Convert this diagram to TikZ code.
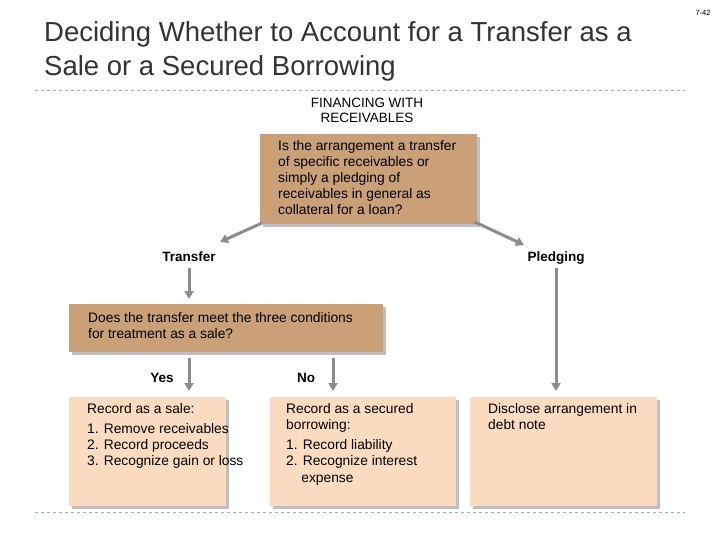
\documentclass[tikz,border=0pt]{standalone}
\usepackage{fontspec}
\setmainfont{Liberation Sans}
\usetikzlibrary{arrows.meta}
\definecolor{dark}{HTML}{C9A078}
\definecolor{light}{HTML}{FCDCC0}
\definecolor{arr}{HTML}{8C8C8C}
\definecolor{dash}{HTML}{9AAAB8}
\tikzset{
 darkbox/.style={fill=dark,draw=none,inner sep=0pt},
 lightbox/.style={fill=light,draw=none,inner sep=0pt},
 shadowed/.style={preaction={fill=black!25,transform canvas={xshift=3pt,yshift=-3pt}}},
 txt/.style={font=\fontsize{13.8}{16.2}\selectfont,align=left,inner sep=0pt},
 lab/.style={font=\fontsize{13.5}{15}\selectfont\bfseries,inner sep=0pt,anchor=base},
 flow/.style={draw=arr,line width=3pt,-{Triangle[width=9pt,length=8pt]}},
 sep/.style={draw=dash,dashed,line width=0.6pt}
}
\begin{document}
\begin{tikzpicture}[x=1pt,y=-1pt]
\useasboundingbox (0,0) rectangle (720,540);
\node[anchor=north west,inner sep=0pt,font=\fontsize{27.5}{34}\selectfont,align=left,text=black!80] (title) at (44,21) {Deciding Whether to Account for a Transfer as a\\Sale or a Secured Borrowing};
\node[font=\fontsize{7.5}{8}\selectfont,inner sep=0pt] (pg) at (703,13) {7-42};
\coordinate (d1) at (35,90); \coordinate (d2) at (685,90);
\coordinate (d3) at (35,512); \coordinate (d4) at (685,512);
\draw[sep] (d1) -- (d2); \draw[sep] (d3) -- (d4);
\node[font=\fontsize{13.5}{15}\selectfont,align=center,inner sep=0pt] (head) at (367,110) {FINANCING WITH\\RECEIVABLES};
\path[darkbox,shadowed] (260,134) rectangle (477,224);
\node[txt,anchor=north west] (q1) at (278,140) {Is the arrangement a transfer\\of specific receivables or\\simply a pledging of\\receivables in general as\\collateral for a loan?};
\coordinate (q1l) at (262,223); \coordinate (q1r) at (475,222);
\path[darkbox,shadowed] (69,304) rectangle (383,352);
\node[txt,anchor=north west] (q2) at (88,312) {Does the transfer meet the three conditions\\for treatment as a sale?};
\path[lightbox,shadowed] (69,397) rectangle (226,506);
\path[lightbox,shadowed] (270,397) rectangle (456,506);
\path[lightbox,shadowed] (470,397) rectangle (657,506);
\node[txt,anchor=north west] (b1) at (87,403) {Record as a sale:\\[4pt]1. Remove receivables\\2. Record proceeds\\3. Recognize gain or loss};
\node[txt,anchor=north west] (b2) at (286,403) {Record as a secured\\borrowing:\\[4pt]1. Record liability\\2. Recognize interest\\\hspace*{1.1em}expense};
\node[txt,anchor=north west] (b3) at (488,403) {Disclose arrangement in\\debt note};
\node[lab] (tr) at (189,261) {Transfer};
\node[lab] (pl) at (556,261) {Pledging};
\node[lab] (yes) at (162,382) {Yes};
\node[lab] (no) at (306,382) {No};
\coordinate (a1e) at (220,242); \coordinate (a2e) at (524,245);
\draw[flow] (q1l) -- (a1e);
\draw[flow] (q1r) -- (a2e);
\draw[flow] (189,268) -- (189,299);
\draw[flow] (556,268) -- (556,391);
\draw[flow] (189,358) -- (189,391);
\draw[flow] (333,358) -- (333,391);
\end{tikzpicture}
\end{document}
